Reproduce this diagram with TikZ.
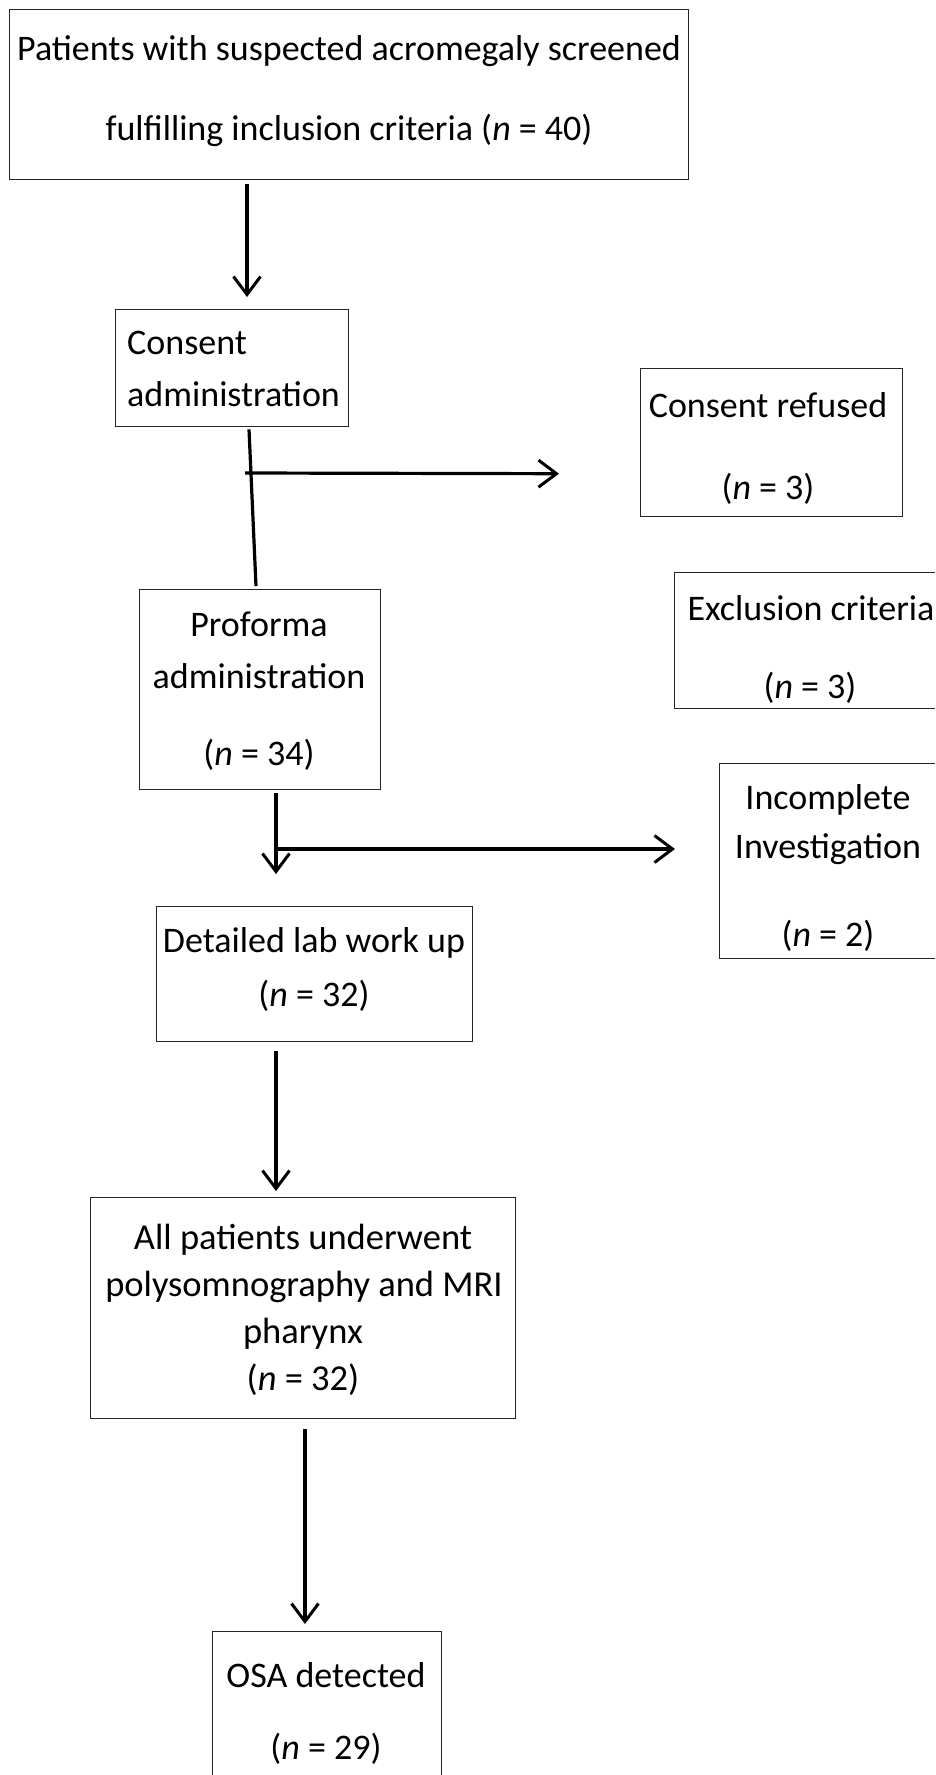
\documentclass[tikz,border=0pt]{standalone}
\usepackage{fontspec}
\setmainfont{Carlito}
\usetikzlibrary{arrows.meta,calc}
\begin{document}
\begin{tikzpicture}[x=1pt,y=-1pt,
  box/.style={draw=black!85,line width=1.4pt,inner sep=0pt,anchor=north west},
  txt/.style={inner sep=0pt,font=\fontsize{36}{42}\selectfont},
  bigtxt/.style={inner sep=0pt,font=\fontsize{36.5}{43}\selectfont},
  conn/.style={line width=3.2pt},
  arr/.style={conn,-{Straight Barb[length=18pt,width=27pt,line width=3pt]}}]
\useasboundingbox (0,0) rectangle (935,1775);
\clip (0,0) rectangle (935,1775);
\fill[white] (0,0) rectangle (935,1775);
% boxes
\node[box,minimum width=679pt,minimum height=170pt] (b1) at (9,9) {};
\node[box,minimum width=233pt,minimum height=117pt] (b2) at (115,309) {};
\node[box,minimum width=262pt,minimum height=148pt] (cr) at (640,368) {};
\node[box,minimum width=241pt,minimum height=200pt] (b3) at (139,589) {};
\node[box,minimum width=300pt,minimum height=136pt] (ex) at (674,572) {};
\node[box,minimum width=300pt,minimum height=195pt] (ic) at (719,763) {};
\node[box,minimum width=316pt,minimum height=135pt] (b4) at (156,906) {};
\node[box,minimum width=425pt,minimum height=221pt] (b5) at (90,1197) {};
\node[box,minimum width=229pt,minimum height=200pt] (b6) at (212,1631) {};
% texts
\node[txt] (t1a) at (349,51) {Patients with suspected acromegaly screened};
\node[txt] (t1b) at (349,130) {fulfilling inclusion criteria (\textit{n} = 40)};
\node[txt,anchor=west] (t2a) at (127,343) {Consent};
\node[txt,anchor=west] (t2b) at (127,394) {administration};
\node[txt] (tcra) at (768,405) {Consent refused};
\node[txt] (tcrb) at (768,489) {(\textit{n} = 3)};
\node[txt] (t3a) at (259,624) {Proforma};
\node[txt] (t3b) at (259,676) {administration};
\node[txt] (t3c) at (259,755) {(\textit{n} = 34)};
\node[txt] (texa) at (811,608) {Exclusion criteria};
\node[txt] (texb) at (810,688) {(\textit{n} = 3)};
\node[txt] (tica) at (828,800) {Incomplete};
\node[txt] (ticb) at (828,849) {Investigation};
\node[txt] (ticc) at (828,936) {(\textit{n} = 2)};
\node[txt] (t4a) at (314,943) {Detailed lab work up};
\node[txt] (t4b) at (314,996) {(\textit{n} = 32)};
\node[bigtxt] (t5a) at (303,1240) {All patients underwent};
\node[bigtxt] (t5b) at (304,1287) {polysomnography and MRI};
\node[bigtxt] (t5c) at (303,1334) {pharynx};
\node[bigtxt] (t5d) at (303,1380) {(\textit{n} = 32)};
\node[txt] (t6a) at (326,1675) {OSA detected};
\node[txt] (t6b) at (326,1749) {(\textit{n} = 29)};
% connector coordinates
\coordinate (a1s) at ($(b1.south west)+(238,4)$);
\coordinate (a1e) at ($(b2.north west)+(132,-12)$);
\coordinate (l2s) at ($(b2.south west)+(134,2)$);
\coordinate (l2e) at ($(b3.north west)+(117,-3)$);
\coordinate (h1s) at (245,473);
\coordinate (h1e) at ($(cr.west)+(-81,31)$);
\coordinate (a3s) at ($(b3.south west)+(137,3)$);
\coordinate (a3e) at ($(b4.north west)+(120,-32)$);
\coordinate (h2s) at (276,849);
\coordinate (h2e) at ($(ic.north west)+(-44,86)$);
\coordinate (a4s) at ($(b4.south west)+(120,9)$);
\coordinate (a4e) at ($(b5.north west)+(186,-6)$);
\coordinate (a5s) at ($(b5.south west)+(215,10)$);
\coordinate (a5e) at ($(b6.north west)+(93,-7)$);
% connectors
\draw[arr] (a1s) -- (a1e);
\draw[conn] (l2s) -- (l2e);
\draw[arr] (h1s) -- (h1e);
\draw[arr] (a3s) -- (a3e);
\draw[arr] (h2s) -- (h2e);
\draw[arr] (a4s) -- (a4e);
\draw[arr] (a5s) -- (a5e);
\end{tikzpicture}
\end{document}
